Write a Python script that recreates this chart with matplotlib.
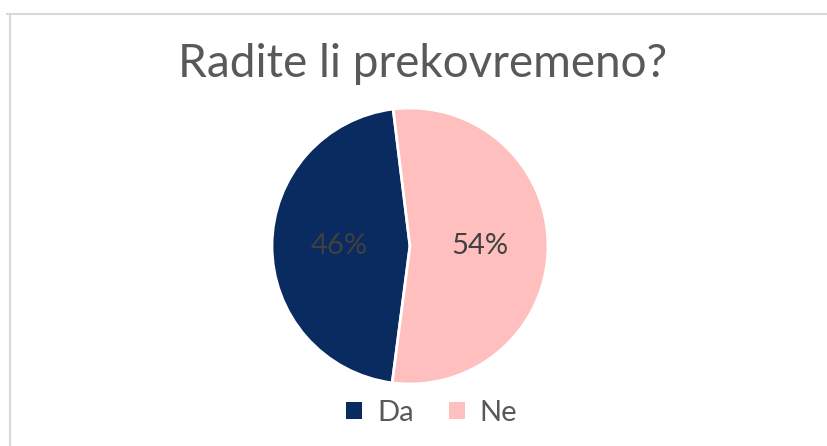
import matplotlib
matplotlib.use('Agg')
import matplotlib.pyplot as plt
from matplotlib.lines import Line2D
from matplotlib.patches import Patch

plt.rcParams['font.family'] = ['Lato', 'DejaVu Sans']

# Survey answers
labels = ['Da', 'Ne']
shares = [46, 54]
colors = ['#0A2B5F', '#FFBFBF']

fig = plt.figure(figsize=(8.27, 4.46), dpi=100)

# light frame (only top and left edges visible in the crop)
fig.add_artist(Line2D([7 / 827, 1], [0.9675, 0.9675], transform=fig.transFigure,
                      color='#D9D9D9', lw=1.5))
fig.add_artist(Line2D([9.5 / 827, 9.5 / 827], [0, 0.9675], transform=fig.transFigure,
                      color='#D9D9D9', lw=1.5))

ax = fig.add_axes([0.3289, 0.139, 0.3337, 0.6188])
wedges, texts, autotexts = ax.pie(
    shares, colors=colors, startangle=-97.4, counterclock=False,
    autopct='%1.0f%%', pctdistance=0.51, radius=1,
    wedgeprops=dict(edgecolor='white', linewidth=2),
    textprops=dict(fontsize=21, color='#404040'))
ax.set_xlim(-1, 1)
ax.set_ylim(-1, 1)
ax.set_aspect('equal')

fig.text(0.511, 0.827, 'Radite li prekovremeno?', ha='center', va='baseline',
         fontsize=33, color='#595959')

handles = [Patch(facecolor=c, edgecolor='none') for c in colors]
fig.legend(handles, labels, loc='center', bbox_to_anchor=(0.522, 0.074), ncol=2,
           frameon=False, fontsize=21, labelcolor='#595959', handlelength=0.55,
           handleheight=0.55, handletextpad=0.5, columnspacing=1.2)

fig.savefig('out.png', dpi=100, facecolor='white')
